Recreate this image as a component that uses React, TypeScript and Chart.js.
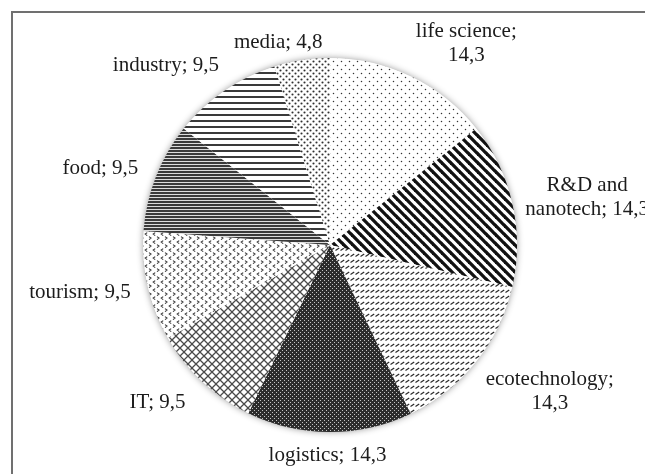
import React, { useEffect, useRef } from 'react';
import { Chart, registerables } from 'chart.js';

Chart.register(...registerables);

// ---- data ----
const categories = [
  'life science',
  'R&D and nanotech',
  'ecotechnology',
  'logistics',
  'IT',
  'tourism',
  'food',
  'industry',
  'media',
];
const shares = [14.3, 14.3, 14.3, 14.3, 9.5, 9.5, 9.5, 9.5, 4.8];

// ---- label layout (relative to each slice's mid-angle and the pie radius) ----
const labelAngleShift = [8.3, 2.4, -5.1, 0.5, 4.6, 2.1, -3.0, -8.0, -5.7];
const labelRadius = [1.302, 1.398, 1.411, 1.123, 1.249, 1.361, 1.294, 1.302, 1.117];

const FONT = '21px "Liberation Serif", "Times New Roman", serif';

function tile(w: number, h: number, draw: (g: CanvasRenderingContext2D) => void): CanvasPattern {
  const c = document.createElement('canvas');
  c.width = w;
  c.height = h;
  const g = c.getContext('2d')!;
  g.fillStyle = '#ffffff';
  g.fillRect(0, 0, w, h);
  draw(g);
  return g.createPattern(c, 'repeat')!;
}

function makePatterns(): CanvasPattern[] {
  const dots = (g: CanvasRenderingContext2D, pts: number[][], r: number, col: string) => {
    g.fillStyle = col;
    pts.forEach(([x, y]) => {
      g.beginPath();
      g.arc(x, y, r, 0, Math.PI * 2);
      g.fill();
    });
  };
  const life = tile(8, 8, (g) => dots(g, [[1.5, 1.5], [5.5, 5.5]], 0.75, '#333'));
  const rnd = tile(9, 9, (g) => {
    g.strokeStyle = '#111';
    g.lineWidth = 3.3;
    [-9, 0, 9].forEach((k) => {
      g.beginPath();
      g.moveTo(k - 1, -1);
      g.lineTo(k + 10, 10);
      g.stroke();
    });
  });
  const eco = tile(5, 6, (g) => {
    g.strokeStyle = '#2a2a2a';
    g.lineWidth = 1.2;
    g.beginPath();
    g.moveTo(0.5, 4.5);
    g.lineTo(4.2, 2);
    g.stroke();
  });
  const logistics = tile(4, 4, (g) => {
    g.fillStyle = '#2c2c2c';
    g.fillRect(0, 0, 4, 4);
    g.fillStyle = '#c4c4c4';
    g.fillRect(0, 0, 1, 1);
    g.fillRect(2, 2, 1, 1);
  });
  const it = tile(8, 8, (g) => {
    g.strokeStyle = '#4a4a4a';
    g.lineWidth = 1.3;
    g.beginPath();
    g.moveTo(-1, -1);
    g.lineTo(9, 9);
    g.moveTo(9, -1);
    g.lineTo(-1, 9);
    g.stroke();
  });
  const tourism = tile(8, 8, (g) => {
    g.strokeStyle = '#3a3a3a';
    g.lineWidth = 1.1;
    g.beginPath();
    g.moveTo(3.2, 0.6);
    g.lineTo(1.2, 2.1);
    g.lineTo(3.2, 3.6);
    g.moveTo(5, 4.6);
    g.lineTo(7, 6.1);
    g.lineTo(5, 7.6);
    g.stroke();
  });
  const food = tile(4, 3, (g) => {
    g.fillStyle = '#3a3a3a';
    g.fillRect(0, 0, 4, 2);
    g.fillStyle = '#dcdcdc';
    g.fillRect(0, 2, 4, 1);
  });
  const industry = tile(4, 6, (g) => {
    g.fillStyle = '#3a3a3a';
    g.fillRect(0, 0, 4, 2);
  });
  const media = tile(6, 6, (g) => dots(g, [[1.5, 1.5], [4.5, 4.5]], 1.05, '#303030'));
  return [life, rnd, eco, logistics, it, tourism, food, industry, media];
}

const fmt = (v: number) => v.toFixed(1).replace('.', ',');

function wrapText(ctx: CanvasRenderingContext2D, text: string, maxW: number): string[] {
  const words = text.split(' ');
  const lines: string[] = [];
  let cur = '';
  words.forEach((w) => {
    const t = cur ? cur + ' ' + w : w;
    if (cur && ctx.measureText(t).width > maxW) {
      lines.push(cur);
      cur = w;
    } else cur = t;
  });
  if (cur) lines.push(cur);
  return lines;
}

const framePlugin = {
  id: 'frame',
  beforeDraw(chart: any) {
    const { ctx, width, height } = chart;
    ctx.save();
    ctx.fillStyle = '#ffffff';
    ctx.fillRect(0, 0, width, height);
    ctx.strokeStyle = '#707070';
    ctx.lineWidth = 2;
    ctx.beginPath();
    ctx.moveTo(12, height + 2);
    ctx.lineTo(12, 12);
    ctx.lineTo(width + 2, 12);
    ctx.stroke();
    ctx.restore();
  },
};

const shadowPlugin = {
  id: 'pieShadow',
  beforeDatasetsDraw(chart: any) {
    const meta = chart.getDatasetMeta(0);
    const a = meta.data[0];
    if (!a) return;
    const { x, y, outerRadius } = a.getProps(['x', 'y', 'outerRadius'], true);
    const ctx = chart.ctx;
    ctx.save();
    ctx.shadowColor = 'rgba(0,0,0,0.45)';
    ctx.shadowBlur = 7;
    ctx.fillStyle = '#ffffff';
    ctx.beginPath();
    ctx.arc(x, y, outerRadius - 0.5, 0, Math.PI * 2);
    ctx.fill();
    ctx.restore();
  },
};

const labelPlugin = {
  id: 'sliceLabels',
  afterDatasetsDraw(chart: any) {
    const meta = chart.getDatasetMeta(0);
    const ctx = chart.ctx;
    ctx.save();
    ctx.font = FONT;
    ctx.fillStyle = '#1c1c1c';
    ctx.textAlign = 'center';
    ctx.textBaseline = 'middle';
    meta.data.forEach((arc: any, i: number) => {
      const { x, y, startAngle, endAngle, outerRadius } = arc.getProps(
        ['x', 'y', 'startAngle', 'endAngle', 'outerRadius'],
        true
      );
      const mid = (startAngle + endAngle) / 2 + (labelAngleShift[i] * Math.PI) / 180;
      const d = outerRadius * labelRadius[i];
      const cx = x + Math.cos(mid) * d;
      const cy = y + Math.sin(mid) * d;
      const text = `${categories[i]}; ${fmt(shares[i])}`;
      const lines = wrapText(ctx, text, 130);
      const lh = 24;
      lines.forEach((ln, k) => {
        ctx.fillText(ln, cx, cy + (k - (lines.length - 1) / 2) * lh);
      });
    });
    ctx.restore();
  },
};

export default function App() {
  const ref = useRef<HTMLCanvasElement | null>(null);

  useEffect(() => {
    if (!ref.current) return;
    const chart = new Chart(ref.current, {
      type: 'pie',
      data: {
        labels: categories,
        datasets: [
          {
            data: shares,
            backgroundColor: makePatterns() as any,
            borderWidth: 0,
          },
        ],
      },
      options: {
        responsive: false,
        animation: false,
        devicePixelRatio: 1,
        layout: { padding: { top: 58, bottom: 42, left: 143, right: 128 } },
        plugins: {
          legend: { display: false },
          tooltip: { enabled: false },
        },
        events: [],
      },
      plugins: [framePlugin, shadowPlugin, labelPlugin],
    });
    return () => chart.destroy();
  }, []);

  return (
    <div style={{ position: 'absolute', left: 0, top: 0, width: 645, height: 474, background: '#fff' }}>
      <canvas ref={ref} width={645} height={474} style={{ display: 'block' }} />
    </div>
  );
}
